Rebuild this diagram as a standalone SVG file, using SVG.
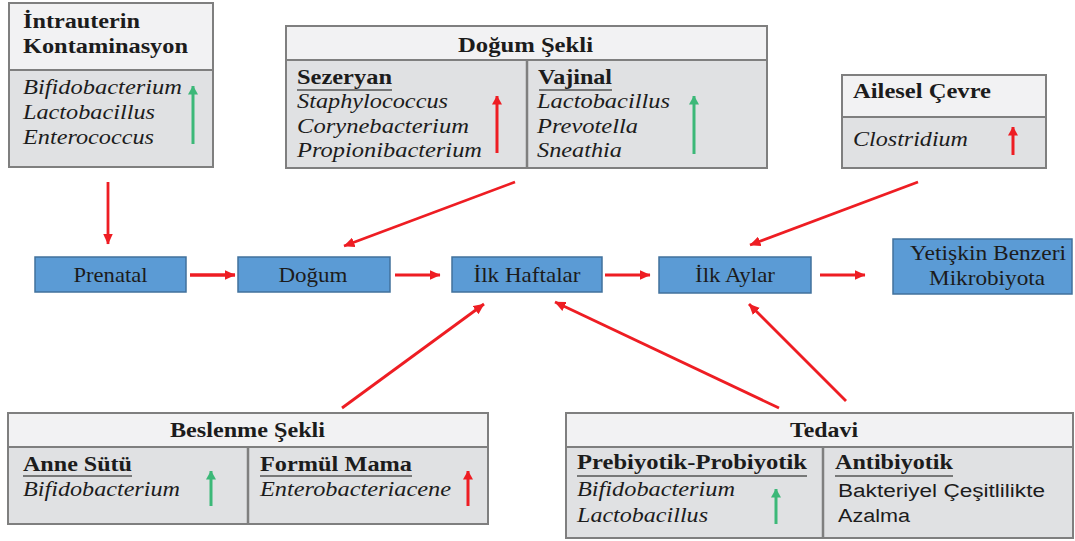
<svg xmlns="http://www.w3.org/2000/svg" width="1075" height="541" viewBox="0 0 1075 541">
<defs>
<style>
.hdr{fill:#f2f2f3;stroke:#7f7f7f;stroke-width:2}
.bdy{fill:#e0e1e3;stroke:#7f7f7f;stroke-width:2}
.dv{stroke:#7f7f7f;stroke-width:2.5}
.b{font-family:"Liberation Serif","Times New Roman",serif;font-weight:bold;font-size:20px;fill:#1c1c1c}
.i{font-family:"Liberation Serif","Times New Roman",serif;font-style:italic;font-size:20px;fill:#1c1c1c}
.s{font-family:"Liberation Sans",Arial,sans-serif;font-size:18px;fill:#1c1c1c}
.n{font-family:"Liberation Serif","Times New Roman",serif;font-size:21px;fill:#1c1c1c}
.ul{stroke:#555;stroke-width:1.6}
.node{fill:#5b9bd5;stroke:#41719c;stroke-width:1.5}
.conn{stroke:#ee1d23;stroke-width:2.8;fill:none;marker-end:url(#ah)}
.up-r{stroke:#ee1d23;stroke-width:3;marker-end:url(#hr)}
.up-g{stroke:#3cb878;stroke-width:3;marker-end:url(#hg)}
</style>
<marker id="ah" markerUnits="userSpaceOnUse" markerWidth="11" markerHeight="10" viewBox="0 0 11 10" refX="10.5" refY="5" orient="auto">
<path d="M0,0 L11,5 L0,10 Z" fill="#ee1d23"/>
</marker>
<marker id="hr" markerUnits="userSpaceOnUse" markerWidth="9" markerHeight="10" viewBox="0 0 9 10" refX="8.5" refY="5" orient="auto">
<path d="M0,0 L9,5 L0,10 Z" fill="#ee1d23"/>
</marker>
<marker id="hg" markerUnits="userSpaceOnUse" markerWidth="9" markerHeight="10" viewBox="0 0 9 10" refX="8.5" refY="5" orient="auto">
<path d="M0,0 L9,5 L0,10 Z" fill="#3cb878"/>
</marker>
</defs>
<rect width="1075" height="541" fill="#ffffff"/>

<g id="intrauterin">
<rect class="hdr" x="9" y="3" width="204" height="67"/>
<rect class="bdy" x="9" y="70" width="204" height="97"/>
<text class="b" x="23" y="28" textLength="117" lengthAdjust="spacingAndGlyphs">İntrauterin</text>
<text class="b" x="23" y="53" textLength="165" lengthAdjust="spacingAndGlyphs">Kontaminasyon</text>
<text class="i" x="23" y="94" textLength="159" lengthAdjust="spacingAndGlyphs">Bifidobacterium</text>
<text class="i" x="23" y="119" textLength="132" lengthAdjust="spacingAndGlyphs">Lactobacillus</text>
<text class="i" x="23" y="144" textLength="131" lengthAdjust="spacingAndGlyphs">Enterococcus</text>
<line class="up-g" x1="193" y1="144" x2="193" y2="86"/>
</g>

<g id="dogum-sekli">
<rect class="hdr" x="286" y="26" width="481" height="34"/>
<rect class="bdy" x="286" y="60" width="481" height="108"/>
<line class="dv" x1="527" y1="60" x2="527" y2="168"/>
<text class="b" x="458" y="52" textLength="135" lengthAdjust="spacingAndGlyphs">Doğum Şekli</text>
<text class="b" x="297" y="84" textLength="95" lengthAdjust="spacingAndGlyphs">Sezeryan</text>
<line class="ul" x1="297" y1="90" x2="392" y2="90"/>
<text class="i" x="297" y="108" textLength="151" lengthAdjust="spacingAndGlyphs">Staphylococcus</text>
<text class="i" x="297" y="133" textLength="172" lengthAdjust="spacingAndGlyphs">Corynebacterium</text>
<text class="i" x="297" y="157" textLength="185" lengthAdjust="spacingAndGlyphs">Propionibacterium</text>
<line class="up-r" x1="497" y1="153" x2="497" y2="96"/>
<text class="b" x="538" y="84" textLength="74" lengthAdjust="spacingAndGlyphs">Vajinal</text>
<line class="ul" x1="539" y1="90" x2="612" y2="90"/>
<text class="i" x="537" y="108" textLength="133" lengthAdjust="spacingAndGlyphs">Lactobacillus</text>
<text class="i" x="537" y="133" textLength="101" lengthAdjust="spacingAndGlyphs">Prevotella</text>
<text class="i" x="537" y="157" textLength="85" lengthAdjust="spacingAndGlyphs">Sneathia</text>
<line class="up-g" x1="694" y1="154" x2="694" y2="96"/>
</g>

<g id="ailesel-cevre">
<rect class="hdr" x="842" y="75" width="204" height="42"/>
<rect class="bdy" x="842" y="117" width="204" height="51"/>
<text class="b" x="853" y="98" textLength="138" lengthAdjust="spacingAndGlyphs">Ailesel Çevre</text>
<text class="i" x="853" y="146" textLength="115" lengthAdjust="spacingAndGlyphs">Clostridium</text>
<line class="up-r" x1="1013" y1="155" x2="1013" y2="127"/>
</g>

<g id="prenatal">
<rect class="node" x="35" y="257" width="151" height="35"/>
<text class="n" x="110.5" y="282" text-anchor="middle" textLength="74" lengthAdjust="spacingAndGlyphs">Prenatal</text>
</g>
<g id="dogum">
<rect class="node" x="238" y="257" width="152" height="35"/>
<text class="n" x="313" y="282" text-anchor="middle" textLength="69" lengthAdjust="spacingAndGlyphs">Doğum</text>
</g>
<g id="ilk-haftalar">
<rect class="node" x="452" y="257" width="150" height="35"/>
<text class="n" x="527" y="282" text-anchor="middle" textLength="107" lengthAdjust="spacingAndGlyphs">İlk Haftalar</text>
</g>
<g id="ilk-aylar">
<rect class="node" x="659" y="257" width="152" height="36"/>
<text class="n" x="735" y="282" text-anchor="middle" textLength="80" lengthAdjust="spacingAndGlyphs">İlk Aylar</text>
</g>
<g id="yetiskin">
<rect class="node" x="893" y="239" width="179" height="55"/>
<text class="n" x="988" y="260" text-anchor="middle" textLength="156" lengthAdjust="spacingAndGlyphs">Yetişkin Benzeri</text>
<text class="n" x="987" y="285" text-anchor="middle" textLength="116" lengthAdjust="spacingAndGlyphs">Mikrobiyota</text>
</g>

<g id="beslenme-sekli">
<rect class="hdr" x="8" y="413" width="480" height="34"/>
<rect class="bdy" x="8" y="447" width="480" height="77"/>
<line class="dv" x1="248" y1="447" x2="248" y2="524"/>
<text class="b" x="170" y="437" textLength="155" lengthAdjust="spacingAndGlyphs">Beslenme Şekli</text>
<text class="b" x="23" y="471" textLength="109" lengthAdjust="spacingAndGlyphs">Anne Sütü</text>
<line class="ul" x1="23" y1="476" x2="132" y2="476"/>
<text class="i" x="23" y="496" textLength="157" lengthAdjust="spacingAndGlyphs">Bifidobacterium</text>
<line class="up-g" x1="211" y1="506" x2="211" y2="471"/>
<text class="b" x="260" y="471" textLength="152" lengthAdjust="spacingAndGlyphs">Formül Mama</text>
<line class="ul" x1="260" y1="476" x2="412" y2="476"/>
<text class="i" x="260" y="496" textLength="191" lengthAdjust="spacingAndGlyphs">Enterobacteriacene</text>
<line class="up-r" x1="468" y1="506" x2="468" y2="471"/>
</g>

<g id="tedavi">
<rect class="hdr" x="566" y="413" width="507" height="34"/>
<rect class="bdy" x="566" y="447" width="507" height="91"/>
<line class="dv" x1="823" y1="447" x2="823" y2="538"/>
<text class="b" x="790" y="437" textLength="68" lengthAdjust="spacingAndGlyphs">Tedavi</text>
<text class="b" x="577" y="469" textLength="230" lengthAdjust="spacingAndGlyphs">Prebiyotik-Probiyotik</text>
<line class="ul" x1="577" y1="476" x2="807" y2="476"/>
<text class="i" x="577" y="496" textLength="158" lengthAdjust="spacingAndGlyphs">Bifidobacterium</text>
<text class="i" x="577" y="522" textLength="131" lengthAdjust="spacingAndGlyphs">Lactobacillus</text>
<line class="up-g" x1="776" y1="524" x2="776" y2="489"/>
<text class="b" x="835" y="469" textLength="118" lengthAdjust="spacingAndGlyphs">Antibiyotik</text>
<line class="ul" x1="835" y1="476" x2="953" y2="476"/>
<text class="s" x="838" y="497" textLength="207" lengthAdjust="spacingAndGlyphs">Bakteriyel Çeşitlilikte</text>
<text class="s" x="838" y="522" textLength="72" lengthAdjust="spacingAndGlyphs">Azalma</text>
</g>

<g id="connectors">
<line class="conn" x1="108" y1="182" x2="108" y2="244"/>
<line class="conn" x1="515" y1="182" x2="344" y2="246"/>
<line class="conn" x1="918" y1="182" x2="750" y2="245"/>
<line class="conn" x1="190" y1="275" x2="235" y2="275" style="stroke-width:3.5"/>
<line class="conn" x1="395" y1="275" x2="440" y2="275"/>
<line class="conn" x1="605" y1="275" x2="650" y2="275"/>
<line class="conn" x1="820" y1="275" x2="865" y2="275"/>
<line class="conn" x1="342" y1="408" x2="484" y2="304"/>
<line class="conn" x1="779" y1="408" x2="555" y2="302"/>
<line class="conn" x1="846" y1="401" x2="749" y2="304"/>
</g>
</svg>
